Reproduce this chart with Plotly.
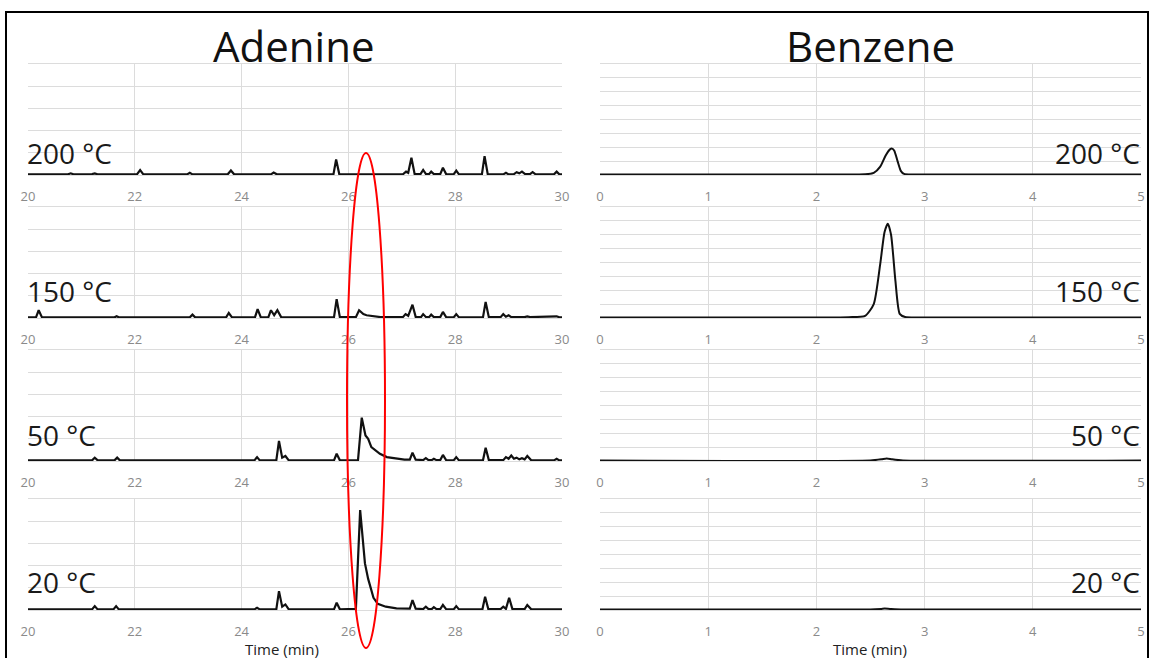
import plotly.graph_objects as go

# ---------------------------------------------------------------------------
# Chromatogram data: (retention time [min], detector response) pairs
# ---------------------------------------------------------------------------
adenine_200 = [
    (20.00, 0.6), (20.75, 0.6), (20.80, 1.5), (20.85, 0.6), (21.20, 0.8), (21.25, 1.4),
    (21.30, 0.6), (22.04, 0.6), (22.10, 4.5), (22.16, 0.6), (22.98, 0.6), (23.03, 2.0),
    (23.08, 0.6), (23.74, 0.6), (23.80, 4.0), (23.86, 0.6), (24.55, 0.6), (24.60, 2.2),
    (24.66, 0.6), (25.72, 0.6), (25.77, 14.0), (25.83, 0.6), (27.02, 0.6), (27.08, 3.0),
    (27.12, 2.0), (27.18, 15.5), (27.24, 1.0), (27.35, 0.8), (27.40, 4.5), (27.45, 1.0),
    (27.51, 0.8), (27.55, 3.0), (27.60, 0.8), (27.72, 0.8), (27.77, 6.5), (27.83, 0.8),
    (27.97, 0.6), (28.02, 4.0), (28.07, 0.6), (28.50, 0.6), (28.55, 17.0), (28.61, 0.6),
    (28.90, 0.6), (28.95, 2.0), (29.00, 0.6), (29.10, 0.8), (29.15, 2.5), (29.20, 1.5),
    (29.25, 3.0), (29.31, 0.8), (29.40, 0.8), (29.45, 2.5), (29.50, 0.8), (29.85, 0.6),
    (29.90, 3.0), (29.95, 0.6), (30.00, 0.6),
]
adenine_150 = [
    (20.00, 0.6), (20.15, 0.6), (20.20, 7.0), (20.26, 0.8), (21.00, 0.6), (21.62, 0.6),
    (21.66, 1.5), (21.70, 0.6), (23.03, 0.6), (23.08, 3.0), (23.13, 0.6), (23.71, 0.6),
    (23.76, 4.5), (23.82, 0.6), (24.25, 0.6), (24.30, 8.0), (24.36, 0.6), (24.50, 0.6),
    (24.55, 7.0), (24.61, 2.5), (24.67, 7.0), (24.74, 0.8), (25.73, 0.6), (25.78, 17.0),
    (25.84, 0.8), (26.14, 0.8), (26.20, 7.0), (26.28, 3.5), (26.34, 2.5), (26.45, 1.8),
    (26.60, 0.8), (27.02, 0.8), (27.07, 3.5), (27.12, 2.0), (27.20, 12.0), (27.26, 1.0),
    (27.36, 0.8), (27.40, 3.5), (27.45, 1.0), (27.51, 0.8), (27.55, 3.0), (27.60, 0.8),
    (27.72, 0.8), (27.77, 5.5), (27.83, 0.8), (27.97, 0.6), (28.02, 3.5), (28.07, 0.6),
    (28.52, 0.6), (28.57, 14.5), (28.63, 0.8), (28.85, 0.8), (28.90, 3.5), (28.95, 1.2),
    (29.00, 2.5), (29.05, 0.8), (29.30, 0.8), (29.35, 1.5), (29.40, 0.8), (29.90, 1.5),
    (29.95, 0.6), (30.00, 0.6),
]
adenine_50 = [
    (20.00, 0.6), (21.20, 0.6), (21.25, 3.0), (21.30, 0.8), (21.62, 0.6), (21.67, 3.0),
    (21.72, 0.6), (23.05, 0.6), (23.10, 1.2), (23.15, 0.6), (24.24, 0.6), (24.29, 3.5),
    (24.34, 0.6), (24.65, 0.6), (24.70, 18.0), (24.76, 3.0), (24.82, 4.5), (24.88, 0.8),
    (25.73, 0.6), (25.78, 6.5), (25.84, 0.6), (26.18, 0.8), (26.25, 39.0), (26.32, 23.0),
    (26.37, 20.0), (26.43, 12.5), (26.52, 9.0), (26.59, 6.5), (26.72, 3.5), (26.90, 2.0),
    (27.05, 1.2), (27.15, 1.2), (27.20, 7.5), (27.26, 1.2), (27.40, 0.8), (27.45, 2.5),
    (27.50, 0.8), (27.56, 0.8), (27.60, 2.0), (27.65, 0.8), (27.72, 0.8), (27.77, 5.5),
    (27.83, 0.8), (27.97, 0.6), (28.02, 3.5), (28.07, 0.6), (28.52, 0.6), (28.57, 12.0),
    (28.63, 0.8), (28.90, 0.8), (28.95, 3.5), (29.00, 2.0), (29.05, 5.0), (29.10, 2.0),
    (29.15, 3.0), (29.20, 1.5), (29.25, 2.5), (29.30, 1.5), (29.35, 4.5), (29.42, 0.8),
    (29.85, 0.6), (29.90, 2.0), (29.95, 0.6), (30.00, 0.6),
]
adenine_20 = [
    (20.00, 0.6), (21.20, 0.6), (21.25, 3.5), (21.30, 0.8), (21.60, 0.6), (21.65, 3.5),
    (21.70, 0.6), (24.24, 0.6), (24.29, 2.0), (24.34, 0.6), (24.65, 0.6), (24.70, 17.0),
    (24.76, 3.0), (24.82, 5.0), (24.88, 0.8), (25.73, 0.6), (25.78, 6.5), (25.84, 0.6),
    (26.14, 1.0), (26.22, 90.0), (26.31, 42.0), (26.37, 28.0), (26.47, 11.0), (26.55, 5.5),
    (26.70, 3.0), (26.90, 1.5), (27.15, 1.2), (27.20, 9.0), (27.26, 1.2), (27.40, 0.8),
    (27.45, 3.0), (27.50, 0.8), (27.56, 0.8), (27.60, 2.5), (27.65, 0.8), (27.72, 0.8),
    (27.77, 4.5), (27.83, 0.8), (27.97, 0.6), (28.02, 3.5), (28.07, 0.6), (28.51, 0.6),
    (28.56, 12.0), (28.62, 0.8), (28.85, 0.8), (28.90, 3.0), (28.95, 1.0), (29.01, 11.0),
    (29.07, 1.0), (29.30, 0.8), (29.35, 4.5), (29.42, 0.8), (30.00, 0.6),
]

benzene_200 = [
    (0.00, 0.4), (2.00, 0.4), (2.45, 0.5), (2.53, 1.5), (2.59, 6.0), (2.64, 14.0),
    (2.68, 18.5), (2.70, 19.0), (2.72, 17.5), (2.75, 10.0), (2.78, 3.0), (2.81, 0.8),
    (2.90, 0.4), (5.00, 0.4),
]
benzene_150 = [
    (0.00, 0.4), (2.00, 0.4), (2.30, 0.6), (2.45, 1.5), (2.53, 10.0), (2.59, 39.0),
    (2.63, 62.0), (2.66, 68.0), (2.69, 60.0), (2.73, 27.0), (2.77, 3.0), (2.82, 0.7),
    (3.00, 0.4), (5.00, 0.4),
]
benzene_50 = [
    (0.00, 0.4), (2.50, 0.4), (2.60, 1.2), (2.65, 1.8), (2.70, 1.2), (2.80, 0.4),
    (5.00, 0.4),
]
benzene_20 = [
    (0.00, 0.4), (2.50, 0.4), (2.60, 0.8), (2.63, 1.0), (2.68, 0.8), (2.80, 0.4),
    (5.00, 0.4),
]

temperatures = ["200 °C", "150 °C", "50 °C", "20 °C"]
adenine_runs = [adenine_200, adenine_150, adenine_50, adenine_20]
benzene_runs = [benzene_200, benzene_150, benzene_50, benzene_20]

adenine_ticks = [20, 22, 24, 26, 28, 30]
benzene_ticks = [0, 1, 2, 3, 4, 5]

# ---------------------------------------------------------------------------
# Page geometry (pixels on a 1150 x 658 page)
# ---------------------------------------------------------------------------
W, H = 1150, 658
FONT = "Open Sans"
GRID = "#dcdcdc"
TICK_COLOR = "#8a8a8a"

def fx(p):
    return p / W

def fy(p):
    return 1 - p / H

panel_rows = [(64, 175), (207, 318), (350, 461), (499, 610)]
adenine_cols = (28, 562)
benzene_cols = (600, 1141)
label_centres = [153, 291, 435, 582]

fig = go.Figure()
layout = dict(
    width=W, height=H,
    margin=dict(l=0, r=0, t=0, b=0, pad=0, autoexpand=False),
    paper_bgcolor="white", plot_bgcolor="white",
    showlegend=False,
    font=dict(family=FONT),
)


def add_axes(idx, cols, row, xrange, ticks, yrange, ydtick):
    xa = dict(
        domain=[fx(cols[0]), fx(cols[1])], range=xrange,
        tickvals=ticks, ticktext=[str(t) for t in ticks],
        showgrid=True, gridcolor=GRID, gridwidth=1,
        showline=True, mirror=True, linecolor=GRID, linewidth=1,
        zeroline=False, ticks="outside", ticklen=9,
        tickcolor="rgba(0,0,0,0)", automargin=False,
        tickfont=dict(family=FONT, size=13, color=TICK_COLOR),
        anchor=f"y{idx}" if idx > 1 else "y", fixedrange=True,
    )
    ya = dict(
        domain=[fy(row[1]), fy(row[0])], range=yrange, dtick=ydtick,
        showgrid=True, gridcolor=GRID, gridwidth=1, automargin=False,
        showline=False, zeroline=False, showticklabels=False, ticks="",
        anchor=f"x{idx}" if idx > 1 else "x", fixedrange=True,
    )
    key = "" if idx == 1 else str(idx)
    layout["xaxis" + key] = xa
    layout["yaxis" + key] = ya
    return ("x" + key, "y" + key)


annotations = []
idx = 1
for i, run in enumerate(adenine_runs):
    xr, yr = add_axes(idx, adenine_cols, panel_rows[i], [20, 30], adenine_ticks, [0, 100], 20)
    fig.add_trace(go.Scatter(
        x=[p[0] for p in run], y=[p[1] for p in run], mode="lines",
        line=dict(color="#111111", width=2.2), xaxis=xr, yaxis=yr,
        name=f"Adenine {temperatures[i]}",
    ))
    annotations.append(dict(
        text=temperatures[i], xref="paper", yref="paper",
        x=fx(adenine_cols[0] - 3), y=fy(label_centres[i]), xanchor="left", yanchor="middle",
        showarrow=False, font=dict(family=FONT, size=28, color="#1a1a1a"),
    ))
    idx += 1

for i, run in enumerate(benzene_runs):
    xr, yr = add_axes(idx, benzene_cols, panel_rows[i], [0, 5], benzene_ticks, [0, 80], 10)
    fig.add_trace(go.Scatter(
        x=[p[0] for p in run], y=[p[1] for p in run], mode="lines",
        line=dict(color="#111111", width=2.0, shape="spline", smoothing=0.6),
        xaxis=xr, yaxis=yr, name=f"Benzene {temperatures[i]}",
    ))
    annotations.append(dict(
        text=temperatures[i], xref="paper", yref="paper",
        x=fx(benzene_cols[1] + 1), y=fy(label_centres[i]), xanchor="right", yanchor="middle",
        showarrow=False, font=dict(family=FONT, size=28, color="#1a1a1a"),
    ))
    idx += 1

# Column titles and axis captions
for text, cx in (("Adenine", 294), ("Benzene", 870)):
    annotations.append(dict(
        text=text, xref="paper", yref="paper", x=fx(cx), y=fy(45),
        xanchor="center", yanchor="middle", showarrow=False,
        font=dict(family=FONT, size=42, color="#111111"),
    ))
for cx in (282, 870):
    annotations.append(dict(
        text="Time (min)", xref="paper", yref="paper", x=fx(cx), y=fy(649),
        xanchor="center", yanchor="middle", showarrow=False,
        font=dict(family=FONT, size=15, color="#222222"),
    ))

layout["annotations"] = annotations
layout["shapes"] = [
    # outer frame
    dict(type="rect", xref="paper", yref="paper",
         x0=fx(6), x1=fx(1148), y0=fy(12), y1=fy(680),
         line=dict(color="black", width=2), fillcolor="rgba(0,0,0,0)", layer="above"),
    # highlight around the adenine peak near 26.2 min
    dict(type="circle", xref="paper", yref="paper",
         x0=fx(347), x1=fx(385), y0=fy(153), y1=fy(648),
         line=dict(color="#ff0000", width=2), fillcolor="rgba(0,0,0,0)", layer="above"),
]

fig.update_layout(**layout)
fig.write_html("out.html")
